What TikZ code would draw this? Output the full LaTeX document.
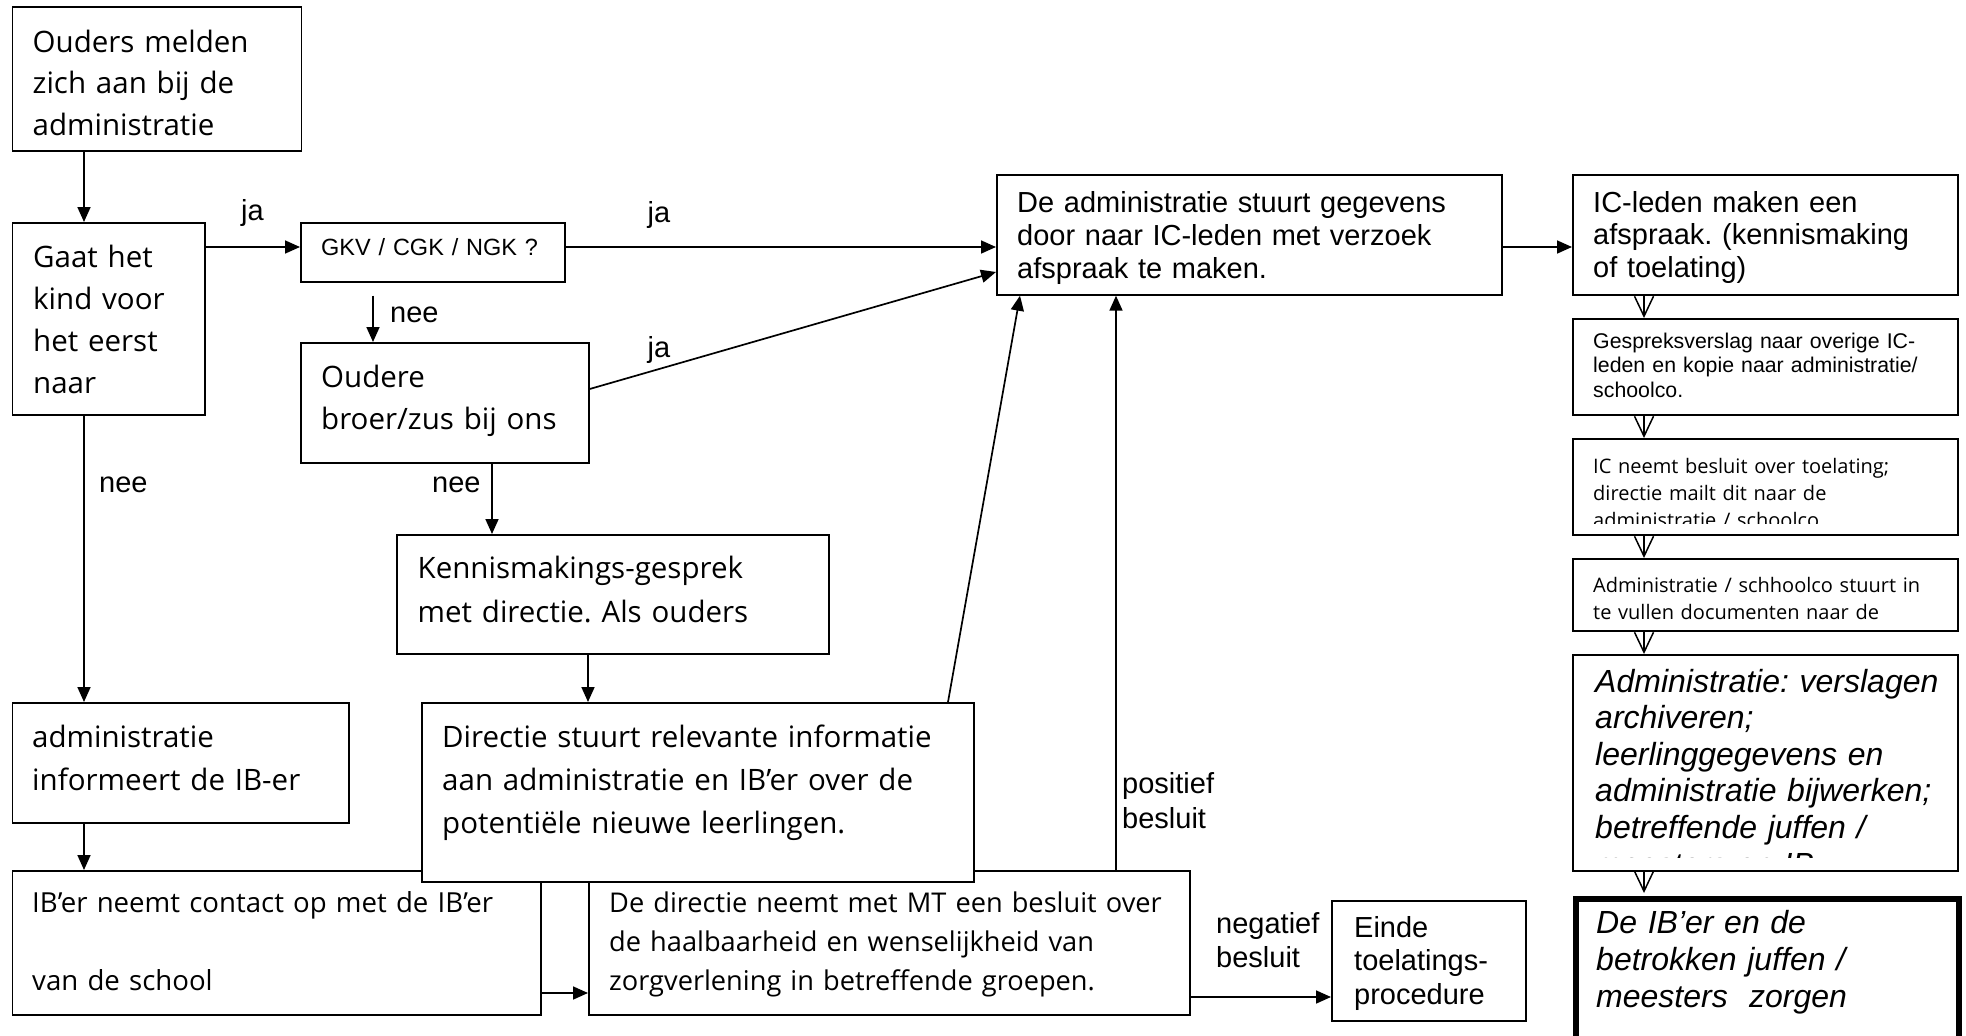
\documentclass[tikz,border=0pt]{standalone}
\usepackage{fontspec}
\usetikzlibrary{arrows.meta}
\newfontfamily\seg{Open Sans}
\newfontfamily\ari{Liberation Sans}
\frenchspacing
\begin{document}
\begin{tikzpicture}[x=1pt,y=-1pt,
  box/.style={draw, line width=1.7pt, inner sep=0pt, anchor=north west, fill=white},
  txt/.style={anchor=base west, inner sep=0pt, align=left, text width=#1},
  arr/.style={line width=1.7pt, -{Triangle[length=15pt,width=13pt]}},
  varr/.style={line width=1.5pt, -{Straight Barb[length=20pt,width=19pt]}},
  fA/.style={font=\seg\fontsize{29.5pt}{#1}\selectfont},
  fM/.style={font=\seg\fontsize{27.6pt}{#1}\selectfont},
  fN/.style={font=\seg\fontsize{27.2pt}{#1}\selectfont},
  fS/.style={font=\seg\fontsize{20pt}{27pt}\selectfont},
  fB/.style={font=\ari\fontsize{29pt}{#1}\selectfont},
  lbl/.style={anchor=base, inner sep=0pt, font=\ari\fontsize{29pt}{34pt}\selectfont},
]
\useasboundingbox[fill=white] (0,0) rectangle (1966,1036);

% ---------- left / middle boxes ----------
\node[box, minimum width=289pt, minimum height=144pt] (ouders) at (11.5,6) {};
\node[txt=270pt, fA=41.5pt] (touders) at (32.5,52) {Ouders melden\\zich aan bij de\\administratie};

\node[box, minimum width=192.5pt, minimum height=192pt] (gaat) at (11.5,222) {};
\node[txt=170pt, fA=42pt] (tgaat) at (33,267) {Gaat het\\kind voor\\het eerst\\naar};

\node[box, minimum width=264pt, minimum height=59pt] (gkv) at (300,222) {};
\node[txt=240pt, font=\ari\fontsize{23.5pt}{28pt}\selectfont] (tgkv) at (321,255) {GKV / CGK / NGK ?};

\node[box, minimum width=288pt, minimum height=120pt] (oudere) at (300,342) {};
\node[txt=265pt, fA=42pt] (toudere) at (321,387) {Oudere\\broer/zus bij ons};

\node[box, minimum width=432pt, minimum height=119pt] (kennis) at (396,534) {};
\node[txt=400pt, fA=44pt] (tkennis) at (417.5,578) {Kennismakings-gesprek\\met directie. Als ouders};

\node[box, minimum width=336.5pt, minimum height=120pt] (adminfo) at (11.5,702) {};
\node[txt=310pt, fA=43pt] (tadminfo) at (32,747) {administratie\\informeert de IB-er};

\node[box, minimum width=528.5pt, minimum height=144pt] (ib) at (11.5,870) {};
\node[txt=500pt, fM=39pt] (tib) at (32,912) {IB’er neemt contact op met de IB’er\\[39pt]van de school};

\node[box, minimum width=601pt, minimum height=144pt] (dneemt) at (588,870) {};
\node[txt=590pt, fN=39pt] (tdneemt) at (609,912) {De directie neemt met MT een besluit over\\de haalbaarheid en wenselijkheid van\\zorgverlening in betreffende groepen.};

\node[box, minimum width=552pt, minimum height=179pt] (dstuurt) at (421,702) {};
\node[txt=525pt, fA=43pt] (tdstuurt) at (442,747) {Directie stuurt relevante informatie\\aan administratie en IB’er over de\\potentiële nieuwe leerlingen.};

\node[box, minimum width=194pt, minimum height=120pt] (einde) at (1331,900) {};
\node[txt=170pt, fB=33.5pt] (teinde) at (1354,937) {Einde\\toelatings-\\procedure};

\node[box, minimum width=505pt, minimum height=120pt] (astuurt) at (996,174) {};
\node[txt=480pt, fB=33pt] (tastuurt) at (1017,212) {De administratie stuurt gegevens\\door naar IC-leden met verzoek\\afspraak te maken.};

% ---------- right column ----------
\node[box, minimum width=385pt, minimum height=120pt] (icleden) at (1572,174) {};
\node[txt=360pt, fB=32.5pt] (ticleden) at (1593,212) {IC-leden maken een\\afspraak. (kennismaking\\of toelating)};

\node[box, minimum width=385pt, minimum height=96pt] (gespr) at (1572,318) {};
\node[txt=360pt, font=\ari\fontsize{21.3pt}{24.5pt}\selectfont] (tgespr) at (1593,348) {Gespreksverslag naar overige IC-\\leden en kopie naar administratie/\\schoolco.};

\node[box, minimum width=385pt, minimum height=96pt] (icneemt) at (1572,438) {};
\begin{scope}
  \clip (1572,438) rectangle (1957,523);
  \node[txt=360pt, fS] (ticneemt) at (1593,473) {IC neemt besluit over toelating;\\directie mailt dit naar de\\administratie / schoolco};
\end{scope}

\node[box, minimum width=385pt, minimum height=72pt] (adschool) at (1572,558) {};
\node[txt=360pt, fS] (tadschool) at (1593,592) {Administratie / schhoolco stuurt in\\te vullen documenten naar de};

\node[box, minimum width=385pt, minimum height=216pt] (ital) at (1572,654) {};
\begin{scope}
  \clip (1572,654) rectangle (1957,857);
  \node[txt=360pt, font=\ari\itshape\fontsize{32pt}{36.6pt}\selectfont] (tital) at (1595,692) {Administratie: verslagen\\archiveren;\\leerlinggegevens en\\administratie bijwerken;\\betreffende juffen /\\meesters en IB};
\end{scope}

\node[box, line width=6pt, minimum width=383pt, minimum height=141pt] (bold) at (1573,896) {};
\node[txt=355pt, font=\ari\itshape\fontsize{32pt}{37pt}\selectfont] (tbold) at (1596,933) {De IB’er en de\\betrokken juffen /\\meesters\ \ zorgen};

% ---------- connectors ----------
\draw[arr] ([xshift=72.5pt]ouders.south west) -- ([xshift=72.5pt]gaat.north west);
\draw[arr] ([yshift=-25pt]gaat.north east) -- ([yshift=-25pt]gkv.north west);
\node[lbl] (lja1) at (252.5,220) {ja};
\draw[arr] ([yshift=-25pt]gkv.north east) -- ([yshift=-73pt]astuurt.north west);
\node[lbl] (lja2) at (659,222) {ja};
\draw[arr] ([xshift=73pt,yshift=-13pt]gkv.south west) -- ([xshift=73pt]oudere.north west);
\node[lbl, anchor=base west] (lnee1) at (390,322) {nee};
\draw[arr] ([yshift=-47pt]oudere.north east) -- ([yshift=-98pt]astuurt.north west);
\node[lbl] (lja3) at (659,357) {ja};
\draw[arr] ([xshift=192pt]oudere.south west) -- ([xshift=96pt]kennis.north west);
\node[lbl, anchor=base west] (lnee3) at (432,492) {nee};
\draw[arr] ([xshift=192pt]kennis.south west) -- ([xshift=167pt]dstuurt.north west);
\draw[arr] ([xshift=527pt]dstuurt.north west) -- ([xshift=24pt]astuurt.south west);
\draw[arr] ([xshift=72.5pt]gaat.south west) -- ([xshift=72.5pt]adminfo.north west);
\node[lbl, anchor=base west] (lnee2) at (99,492) {nee};
\draw[arr] ([xshift=72.5pt]adminfo.south west) -- ([xshift=72.5pt]ib.north west);
\draw[arr] ([yshift=-123pt]ib.north east) -- ([yshift=-123pt]dneemt.north west);
\draw[arr] ([xshift=528pt]dneemt.north west) -- ([xshift=120pt]astuurt.south west);
\node[txt=110pt, font=\ari\fontsize{29pt}{35pt}\selectfont] (lpos) at (1122,793) {positief\\besluit};
\draw[arr] ([yshift=-127pt]dneemt.north east) -- ([yshift=-97pt]einde.north west);
\node[txt=110pt, font=\ari\fontsize{29pt}{34pt}\selectfont] (lneg) at (1216,933) {negatief\\besluit};
\draw[arr] ([yshift=-73pt]astuurt.north east) -- ([yshift=-73pt]icleden.north west);

\draw[varr] ([xshift=72pt]icleden.south west) -- ([xshift=72pt]gespr.north west);
\draw[varr] ([xshift=72pt]gespr.south west) -- ([xshift=72pt]icneemt.north west);
\draw[varr] ([xshift=72pt]icneemt.south west) -- ([xshift=72pt]adschool.north west);
\draw[varr] ([xshift=72pt]adschool.south west) -- ([xshift=72pt]ital.north west);
\draw[varr, shorten >=3pt] ([xshift=72pt]ital.south west) -- ([xshift=71pt]bold.north west);
\end{tikzpicture}
\end{document}
